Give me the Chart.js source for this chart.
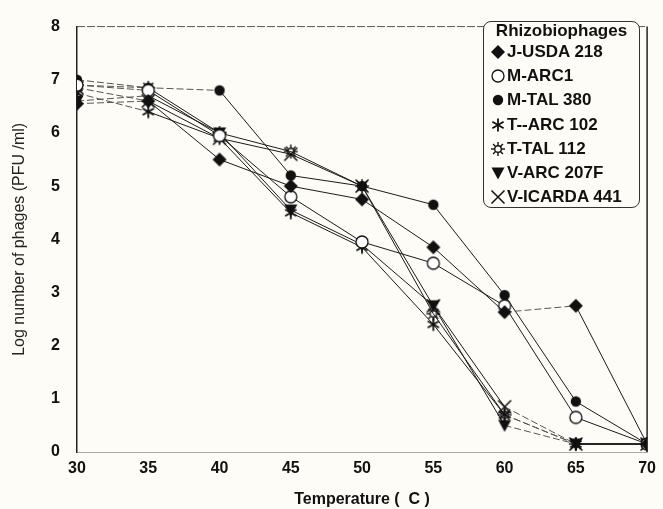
<!DOCTYPE html>
<html>
<head>
<meta charset="utf-8">
<script src="https://cdn.jsdelivr.net/npm/chart.js@4/dist/chart.umd.min.js"></script>
<style>
  body { margin: 0; background: #fdfcf6; }
  #wrap { position: relative; width: 663px; height: 509px; }
  #legend {
    position: absolute; left: 483px; top: 21px; width: 155px; height: 185px;
    border: 1.2px solid #333; border-radius: 8px; background: #fdfcf6;
    font-family: "Liberation Sans", Arial, sans-serif; font-weight: bold; font-size: 17px; color: #111;
  }
  #legend .ttl { text-align: center; margin-top: 0px; line-height: 18px; }
  #legend .row { display: flex; align-items: center; height: 24.2px; margin-left: 6px; }
  #legend .row canvas { margin-right: 1px; }
</style>
</head>
<body>
<div id="wrap">
  <canvas id="line-chart" width="663" height="509"></canvas>
  <div id="legend"><div class="ttl">Rhizobiophages</div></div>
</div>
<script>
// values
var temps = [30, 35, 40, 45, 50, 55, 60, 65, 70];
var tempTicks = [30, 35, 40, 45, 50, 55, 60, 65, 70];
var logTicks = [0, 1, 2, 3, 4, 5, 6, 7, 8];
var seriesNames = ["J-USDA 218", "M-ARC1", "M-TAL 380", "T--ARC 102", "T-TAL 112", "V-ARC 207F", "V-ICARDA 441"];
var jUsda218   = [6.55, 6.6, 5.5, 5.0, 4.75, 3.85, 2.63, 2.75, 0.15];
var mArc1      = [6.9, 6.8, 5.95, 4.8, 3.95, 3.55, 2.75, 0.65, 0.15];
var mTal380    = [7.0, 6.85, 6.8, 5.2, 5.0, 4.65, 2.95, 0.95, 0.15];
var tArc102    = [6.75, 6.4, 5.9, 4.5, 3.85, 2.4, 0.7, 0.15, 0.15];
var tTal112    = [6.9, 6.85, 6.0, 5.65, 5.0, 2.6, 0.7, 0.15, 0.15];
var vArc207F   = [6.6, 6.7, 6.0, 4.55, 3.9, 2.75, 0.5, 0.15, 0.15];
var vIcarda441 = [6.85, 6.6, 5.9, 5.6, 5.0, 2.75, 0.85, 0.15, 0.15];

// marker drawing, each marker is a small canvas
function marker(kind) {
    var c = document.createElement('canvas');
    c.width = 16; c.height = 16;
    var g = c.getContext('2d');
    g.fillStyle = '#111'; g.strokeStyle = '#111';
    var m = 8;
    if (kind == 'diamond') {
        g.beginPath(); g.moveTo(m, 1); g.lineTo(15, m); g.lineTo(m, 15); g.lineTo(1, m); g.closePath(); g.fill();
    } else if (kind == 'open') {
        g.lineWidth = 1.3; g.fillStyle = '#fff';
        g.beginPath(); g.arc(m, m, 6, 0, Math.PI * 2); g.fill(); g.stroke();
    } else if (kind == 'dot') {
        g.beginPath(); g.arc(m, m, 5.2, 0, Math.PI * 2); g.fill();
    } else if (kind == 'aster') {
        g.lineWidth = 1.8;
        for (var i = 0; i < 6; i++) {
            var a = Math.PI / 2 + i * Math.PI / 3;
            g.beginPath(); g.moveTo(m, m); g.lineTo(m + 6.5 * Math.cos(a), m - 6.5 * Math.sin(a)); g.stroke();
        }
    } else if (kind == 'sun') {
        g.lineWidth = 1.4;
        g.beginPath(); g.arc(m, m, 3.3, 0, Math.PI * 2); g.stroke();
        for (var j = 0; j < 8; j++) {
            var b = j * Math.PI / 4;
            g.beginPath(); g.moveTo(m + 3.5 * Math.cos(b), m + 3.5 * Math.sin(b));
            g.lineTo(m + 7 * Math.cos(b), m + 7 * Math.sin(b)); g.stroke();
        }
    } else if (kind == 'tri') {
        g.beginPath(); g.moveTo(1.5, 2.5); g.lineTo(14.5, 2.5); g.lineTo(m, 14.5); g.closePath(); g.fill();
    } else if (kind == 'x') {
        g.lineWidth = 1.5;
        g.beginPath(); g.moveTo(1.5, 1.5); g.lineTo(14.5, 14.5); g.moveTo(14.5, 1.5); g.lineTo(1.5, 14.5); g.stroke();
    }
    return c;
}

var kinds = ['diamond', 'open', 'dot', 'aster', 'sun', 'tri', 'x'];
var values = [jUsda218, mArc1, mTal380, tArc102, tTal112, vArc207F, vIcarda441];
// which segments look dashed in the scan (index of segment start)
var dashedSegs = [[0, 6], [0], [0, 1], [0, 6], [0, 6], [0, 6], [0, 6]];

var datasets = [];
for (var k = 0; k < values.length; k++) {
    (function (k) {
        datasets.push({
            label: seriesNames[k],
            data: temps.map(function (t, i) { return { x: t, y: values[k][i] }; }),
            borderColor: '#1a1a1a',
            borderWidth: 1,
            pointStyle: marker(kinds[k]),
            pointRadius: 7,
            segment: {
                borderDash: function (ctx) { return dashedSegs[k].indexOf(ctx.p0DataIndex) >= 0 ? [7, 3] : undefined; },
                borderColor: function (ctx) { return dashedSegs[k].indexOf(ctx.p0DataIndex) >= 0 ? '#555' : undefined; }
            },
            tension: 0
        });
    })(k);
    var row = document.createElement('div');
    row.className = 'row';
    row.appendChild(marker(kinds[k]));
    var sp = document.createElement('span');
    sp.textContent = seriesNames[k];
    row.appendChild(sp);
    document.getElementById('legend').appendChild(row);
}

// top and right frame lines
var frame = {
    id: 'frame',
    beforeDatasetsDraw: function (chart) {
        var a = chart.chartArea, g = chart.ctx;
        g.save();
        g.strokeStyle = '#555'; g.lineWidth = 1; g.setLineDash([8, 2]);
        g.beginPath(); g.moveTo(a.left, a.top); g.lineTo(a.right, a.top); g.stroke();
        g.setLineDash([]); g.strokeStyle = '#222'; g.lineWidth = 1.5;
        g.beginPath(); g.moveTo(a.right, a.top); g.lineTo(a.right, a.bottom); g.stroke();
        g.restore();
    }
};

var font = { family: '"Liberation Sans", Arial, sans-serif', weight: 'bold', size: 16 };

new Chart(document.getElementById('line-chart'), {
    type: 'line',
    data: { datasets: datasets },
    plugins: [frame],
    options: {
        responsive: false,
        animation: false,
        layout: { padding: { top: 16, right: 10, left: 0, bottom: 0 } },
        plugins: { legend: { display: false }, tooltip: { enabled: false } },
        scales: {
            x: {
                type: 'linear', min: 30, max: 70,
                afterFit: function (s) { s.height = 57; },
                afterBuildTicks: function (s) { s.ticks = tempTicks.map(function (v) { return { value: v }; }); },
                grid: { display: false, drawTicks: false },
                border: { display: true, color: '#aaa', dash: [2, 5], width: 1 },
                ticks: { color: '#111', font: font, padding: 7, maxRotation: 0 },
                title: { display: true, text: 'Temperature (  C )', color: '#111', font: font, padding: { top: 0, bottom: 0 } }
            },
            y: {
                min: 0, max: 8,
                afterFit: function (s) { s.width = 77; },
                afterBuildTicks: function (s) { s.ticks = logTicks.map(function (v) { return { value: v }; }); },
                grid: { display: false, drawTicks: false },
                border: { display: true, color: '#222', width: 1.5 },
                ticks: { color: '#111', font: font, padding: 17 },
                title: {
                    display: true, text: 'Log number of phages (PFU /ml)', color: '#222',
                    font: { family: '"Liberation Sans", Arial, sans-serif', size: 16 },
                    padding: { top: 10, bottom: 0 }
                }
            }
        }
    }
});
</script>
</body>
</html>
